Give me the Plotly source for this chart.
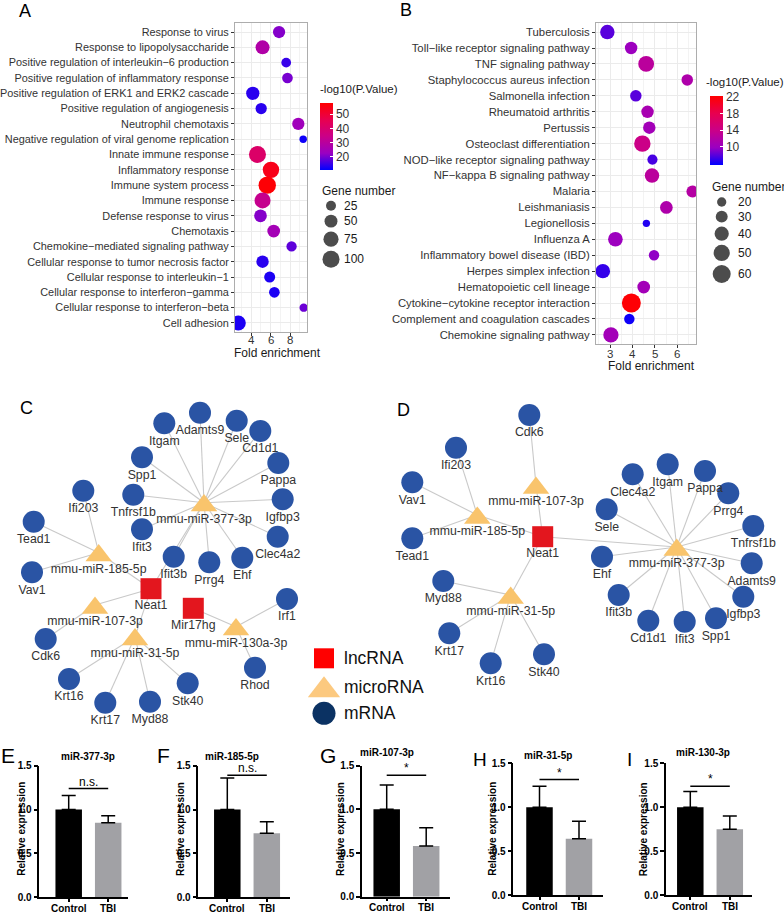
import numpy as np
import plotly.graph_objects as go

W, H = 784, 913
FONT = "Liberation Sans, Arial, sans-serif"
M = "\u2212"

# ---------------- Panel A: GO enrichment ----------------
go_terms = ["Response to virus", "Response to lipopolysaccharide",
            f"Positive regulation of interleukin{M}6 production",
            "Positive regulation of inflammatory response",
            "Positive regulation of ERK1 and ERK2 cascade",
            "Positive regulation of angiogenesis",
            "Neutrophil chemotaxis",
            "Negative regulation of viral genome replication",
            "Innate immune response", "Inflammatory response",
            "Immune system process", "Immune response",
            "Defense response to virus", "Chemotaxis",
            f"Chemokine{M}mediated signaling pathway",
            "Cellular response to tumor necrosis factor",
            f"Cellular response to interleukin{M}1",
            f"Cellular response to interferon{M}gamma",
            f"Cellular response to interferon{M}beta",
            "Cell adhesion"]
go_fold = [6.86, 5.17, 7.59, 7.72, 4.17, 5.03, 8.83, 9.33, 4.65, 6.03,
           5.65, 5.17, 4.96, 6.31, 8.14, 5.17, 5.90, 6.38, 9.38, 2.69]
go_genes = [44, 62, 23, 30, 54, 35, 44, 10, 100, 92,
            106, 86, 48, 48, 27, 45, 33, 30, 15, 73]
go_logp = [21, 28, 15, 20, 14, 14, 24, 12, 41, 54,
           57, 33, 21, 25, 18, 14, 13, 13, 19, 13]
go_size_legend = [25, 50, 75, 100]
go_color_ticks = [20, 30, 40, 50]
go_x_ticks = [4, 6, 8]

# ---------------- Panel B: KEGG enrichment ----------------
kegg_terms = ["Tuberculosis", f"Toll{M}like receptor signaling pathway",
              "TNF signaling pathway", "Staphylococcus aureus infection",
              "Salmonella infection", "Rheumatoid arthritis", "Pertussis",
              "Osteoclast differentiation",
              f"NOD{M}like receptor signaling pathway",
              f"NF{M}kappa B signaling pathway", "Malaria", "Leishmaniasis",
              "Legionellosis", "Influenza A",
              "Inflammatory bowel disease (IBD)", "Herpes simplex infection",
              "Hematopoietic cell lineage",
              f"Cytokine{M}cytokine receptor interaction",
              "Complement and coagulation cascades",
              "Chemokine signaling pathway"]
kegg_fold = [2.88, 3.94, 4.61, 6.44, 4.15, 4.67, 4.75, 4.44, 4.89, 4.87,
             6.67, 5.51, 4.62, 3.24, 4.96, 2.68, 4.50, 3.95, 3.86, 3.04]
kegg_genes = [41, 32, 48, 28, 28, 32, 32, 51, 23, 41,
              30, 33, 14, 42, 24, 41, 33, 66, 24, 45]
kegg_logp = [8, 10, 12.5, 11.5, 8, 11, 10.5, 14, 7.5, 12.5,
             12, 11.5, 6.5, 10, 9.5, 7, 10.5, 22, 6, 10.5]
kegg_size_legend = [20, 30, 40, 50, 60]
kegg_color_ticks = [10, 14, 18, 22]
kegg_x_ticks = [3, 4, 5, 6]

# ---------------- Panel C network (layout coordinates) ----------------
c_names = ["Adamts9", "Itgam", "Sele", "Cd1d1", "Spp1", "Pappa", "Tnfrsf1b",
           "mmu-miR-377-3p", "Igfbp3", "Ifi203", "Tead1", "Ifit3", "Clec4a2",
           "mmu-miR-185-5p", "Ifit3b", "Prrg4", "Ehf", "Vav1", "Neat1",
           "Mir17hg", "Irf1", "mmu-miR-107-3p", "mmu-miR-130a-3p",
           "mmu-miR-31-5p", "Cdk6", "Rhod", "Krt16", "Stk40", "Krt17", "Myd88"]
c_x = [200, 164.3, 236.7, 260.3, 142, 278.3, 133.3, 204, 282.7, 83.3, 33.7,
       142, 277.7, 98.7, 173.7, 209.3, 242.3, 32, 151, 193.3, 287, 95, 236,
       135, 45.7, 255, 69, 187.7, 105.3, 150]
c_y = [412.7, 423.3, 420.7, 431, 457.3, 463, 494.7, 502.7, 499.3, 490.7,
       521.7, 529.3, 536.7, 552.7, 556.7, 562.3, 557.7, 572.3, 588.7, 608.3,
       599, 605, 626.7, 636.7, 639, 667.7, 679, 683.3, 702.7, 701.7]
c_type = ["m", "m", "m", "m", "m", "m", "m", "mi", "m", "m", "m", "m", "m",
          "mi", "m", "m", "m", "m", "lnc", "lnc", "m", "mi", "mi", "mi", "m",
          "m", "m", "m", "m", "m"]
c_edges = [("mmu-miR-377-3p", t) for t in
           ["Adamts9", "Itgam", "Sele", "Cd1d1", "Spp1", "Pappa", "Tnfrsf1b",
            "Igfbp3", "Ifit3", "Clec4a2", "Ifit3b", "Prrg4", "Ehf", "Neat1"]] + \
          [("mmu-miR-185-5p", t) for t in ["Ifi203", "Tead1", "Vav1", "Neat1"]] + \
          [("mmu-miR-107-3p", t) for t in ["Neat1", "Cdk6"]] + \
          [("mmu-miR-31-5p", t) for t in ["Neat1", "Krt16", "Krt17", "Myd88", "Stk40"]] + \
          [("mmu-miR-130a-3p", t) for t in ["Mir17hg", "Irf1", "Rhod"]]

# ---------------- Panel D network ----------------
d_names = ["Cdk6", "Ifi203", "Itgam", "Pappa", "Clec4a2", "Vav1",
           "mmu-miR-107-3p", "Prrg4", "Sele", "mmu-miR-185-5p", "Tnfrsf1b",
           "Neat1", "Tead1", "mmu-miR-377-3p", "Ehf", "Adamts9", "Myd88",
           "mmu-miR-31-5p", "Ifit3b", "Igfbp3", "Spp1", "Cd1d1", "Ifit3",
           "Krt17", "Stk40", "Krt16"]
d_x = [529.3, 456, 667.7, 705, 632.7, 412.3, 536, 728.3, 606.7, 477.3, 753.3,
       542.7, 412.3, 676.7, 602, 751.7, 443.3, 510.7, 618.7, 743.3, 716,
       648.3, 684.7, 449.3, 544, 490.7]
d_y = [415, 447.7, 464.3, 471, 474.3, 482.3, 485, 493.3, 509.3, 515, 526,
       536.7, 538.3, 547, 556.7, 563.3, 581, 595, 595, 596.7, 618.3, 620.7,
       621.7, 633.3, 654.3, 663.3]
d_type = ["m", "m", "m", "m", "m", "m", "mi", "m", "m", "mi", "m", "lnc",
          "m", "mi", "m", "m", "m", "mi", "m", "m", "m", "m", "m", "m", "m", "m"]
d_edges = [("Neat1", t) for t in ["mmu-miR-107-3p", "mmu-miR-185-5p",
                                  "mmu-miR-31-5p", "mmu-miR-377-3p"]] + \
          [("mmu-miR-107-3p", "Cdk6")] + \
          [("mmu-miR-185-5p", t) for t in ["Ifi203", "Vav1", "Tead1"]] + \
          [("mmu-miR-31-5p", t) for t in ["Myd88", "Krt17", "Krt16", "Stk40"]] + \
          [("mmu-miR-377-3p", t) for t in
           ["Itgam", "Clec4a2", "Pappa", "Prrg4", "Sele", "Tnfrsf1b", "Ehf",
            "Adamts9", "Ifit3b", "Igfbp3", "Cd1d1", "Ifit3", "Spp1"]]

legend_types = ["lnc", "mi", "m"]
legend_labels = ["lncRNA", "microRNA", "mRNA"]

# ---------------- Panels E-I: qPCR bars ----------------
bar_letters = ["E", "F", "G", "H", "I"]
bar_titles = ["miR-377-3p", "miR-185-5p", "miR-107-3p", "miR-31-5p", "miR-130-3p"]
groups = ["Control", "TBI"]
ctrl_mean = [1.0, 1.0, 1.0, 1.0, 1.0]
ctrl_err = [0.16, 0.36, 0.28, 0.24, 0.18]
tbi_mean = [0.85, 0.73, 0.58, 0.64, 0.75]
tbi_err = [0.08, 0.13, 0.21, 0.20, 0.15]
sig_text = ["n.s.", "n.s.", "*", "*", "*"]
sig_y = [1.24, 1.39, 1.39, 1.315, 1.24]
bar_yticks = [0.0, 0.5, 1.0, 1.5]

# =====================================================================
fig = go.Figure()
annotations = []
shapes = []


def px(x):
    return x / W


def py(y):
    return 1 - y / H


def ann(x, y, text, size=12, xanchor="center", yanchor="middle", color="#1a1a1a",
        angle=0, xref="paper", **kw):
    d = dict(x=px(x) if xref == "paper" else x, y=py(y), xref=xref, yref="paper", text=text,
             showarrow=False, xanchor=xanchor, yanchor=yanchor, textangle=angle,
             font=dict(family=FONT, size=size, color=color))
    d.update(kw)
    annotations.append(d)


def sizeA(v):
    return 3.0 + 1.4 * np.sqrt(v)


def sizeB(v):
    return max(4.0, -2.55 + 2.65 * np.sqrt(v))


cscale = [[0, "#0000FF"], [0.25, "#9A00C2"], [0.5, "#CA0088"],
          [0.75, "#E8004F"], [1, "#FF0000"]]

# Panel A dots
fig.add_trace(go.Scatter(x=go_fold, y=go_terms, mode="markers", xaxis="x", yaxis="y",
                         marker=dict(size=[sizeA(v) for v in go_genes], color=go_logp,
                                     coloraxis="coloraxis", line=dict(width=0), opacity=1),
                         hoverinfo="skip"))
# Panel B dots
fig.add_trace(go.Scatter(x=kegg_fold, y=kegg_terms, mode="markers", xaxis="x2", yaxis="y2",
                         marker=dict(size=[sizeB(v) for v in kegg_genes], color=kegg_logp,
                                     coloraxis="coloraxis2", line=dict(width=0), opacity=1),
                         hoverinfo="skip"))

# x tick labels of A and B (placed on the data axes)
for v in go_x_ticks:
    ann(v, 340, str(v), size=11.5, color="#333333", xref="x", borderpad=0)
for v in kegg_x_ticks:
    ann(v, 353.8, str(v), size=11.5, color="#333333", xref="x2", borderpad=0)


# Size legends (overlay axes x3/y3 in pixel units)
def size_legend(values, fsize, x_c, x_t, y0):
    sizes = [fsize(v) for v in values]
    ys = [y0]
    for i in range(1, len(sizes)):
        ys.append(ys[-1] + (sizes[i - 1] + sizes[i]) / 2 + 4)
    fig.add_trace(go.Scatter(x=[x_c] * len(values), y=ys, mode="markers", xaxis="x3", yaxis="y3",
                             marker=dict(size=sizes, color="black", line=dict(width=0)),
                             hoverinfo="skip"))
    for v, yy in zip(values, ys):
        ann(x_t, yy, str(v), size=12, xanchor="left")


size_legend(go_size_legend, sizeA, 331, 342, 205.7)
size_legend(kegg_size_legend, sizeB, 721.7, 736, 202)
ann(320, 191, "Gene number", size=12, xanchor="left")
ann(710, 187, "Gene number", size=12, xanchor="left")
ann(318, 89, "-log10(P.Value)", size=11.5, xanchor="left")
ann(704, 82, "-log10(P.Value)", size=11.5, xanchor="left")
ann(277, 352.5, "Fold enrichment", size=12, borderpad=0)
ann(651.7, 366.3, "Fold enrichment", size=12, borderpad=0)

# ---------------- networks ----------------
NODE_STYLE = {
    "m": dict(symbol="circle", size=22, color="#2A54A4"),
    "lnc": dict(symbol="square", size=21, color="#E3161E"),
    "mi": dict(symbol="triangle-up", size=23, color="#F9C46C"),
}
LABEL_OFF = {"m": 18.3, "lnc": 17.7, "mi": 17.0}


def draw_network(names, xs, ys, types, edges):
    pos = {n: (x, y) for n, x, y in zip(names, xs, ys)}
    ex, ey = [], []
    for a, b in edges:
        ex += [pos[a][0], pos[b][0], None]
        ey += [pos[a][1], pos[b][1], None]
    fig.add_trace(go.Scatter(x=ex, y=ey, mode="lines", xaxis="x3", yaxis="y3",
                             line=dict(color="#C9C9C9", width=1.1), hoverinfo="skip"))
    for t in ["m", "lnc", "mi"]:
        st = NODE_STYLE[t]
        idx = [i for i, tt in enumerate(types) if tt == t]
        shift = st["size"] / 8 if t == "mi" else 0
        fig.add_trace(go.Scatter(x=[xs[i] for i in idx], y=[ys[i] + shift for i in idx],
                                 mode="markers", xaxis="x3", yaxis="y3",
                                 marker=dict(symbol=st["symbol"], size=st["size"],
                                             color=st["color"], line=dict(width=0)),
                                 hoverinfo="skip"))
    fig.add_trace(go.Scatter(x=xs, y=[y + LABEL_OFF[t] for y, t in zip(ys, types)],
                             text=names, mode="text", xaxis="x3", yaxis="y3",
                             textfont=dict(family=FONT, size=12.3, color="#333333"),
                             hoverinfo="skip"))


draw_network(c_names, c_x, c_y, c_type, c_edges)
draw_network(d_names, d_x, d_y, d_type, d_edges)

# network legend
LEG_STYLE = {"lnc": dict(symbol="square", size=20, color="#FF0000"),
             "mi": dict(symbol="triangle-up", size=28, color="#FCC97F"),
             "m": dict(symbol="circle", size=23, color="#0B3263")}
leg_y = [658.3, 686.7, 713.3]
for t, lab, yy in zip(legend_types, legend_labels, leg_y):
    st = LEG_STYLE[t]
    shift = st["size"] / 8 if t == "mi" else 0
    fig.add_trace(go.Scatter(x=[324], y=[yy + shift], mode="markers", xaxis="x3", yaxis="y3",
                             marker=dict(symbol=st["symbol"], size=st["size"], color=st["color"],
                                         line=dict(width=0)), hoverinfo="skip"))
    ann(342, yy, lab, size=17.5, xanchor="left", color="#111111")

# ---------------- bar charts ----------------
# (axis left px, axis right px, control centre px, y of 0 px, y of 1.5 px)
bar_geom = [(39.3, 128, 68.7, 897.3, 765.7),
            (198.3, 290, 227.3, 897.3, 765.7),
            (362, 450, 386.7, 896.7, 765.7),
            (513.3, 603, 539.5, 895, 763.3),
            (666, 752, 690.3, 895, 763.3)]
title_pos = [(88, 756.7), (231.7, 756.7), (387, 752.5), (548.3, 755), (702.7, 752.3)]
ylab_x = [20.7, 180, 340, 491.7, 643.3]
letter_pos = [(8, 755, 21), (163, 755, 21), (328, 755, 21), (480, 759, 19), (629, 759, 19)]
SP = 39.5
layout_axes = {}
for k in range(5):
    left, right, cc, y0, y15 = bar_geom[k]
    n = k + 4
    xa, ya = f"x{n}", f"y{n}"
    fig.add_trace(go.Bar(x=[0, 1], y=[ctrl_mean[k], tbi_mean[k]], xaxis=xa, yaxis=ya,
                         width=26.5 / SP,
                         marker=dict(color=["#000000", "#A1A1A5"], line=dict(width=0)),
                         error_y=dict(type="data", symmetric=False,
                                      array=[ctrl_err[k], tbi_err[k]], arrayminus=[0, 0],
                                      color="black", thickness=1.5, width=7),
                         hoverinfo="skip"))
    layout_axes[f"xaxis{n}"] = dict(
        domain=[px(left), px(right)], range=[(left - cc) / SP, (right - cc) / SP],
        anchor=ya, tickvals=[0, 1], showticklabels=False,
        showline=True, linecolor="black", linewidth=1.5, ticks="outside", ticklen=3,
        tickwidth=1.5, tickcolor="black", showgrid=False, zeroline=False, automargin=False,
        fixedrange=True)
    layout_axes[f"yaxis{n}"] = dict(
        domain=[py(y0), py(y15)], range=[0, 1.5], anchor=xa,
        tickvals=bar_yticks, ticktext=[f"<b>{v:.1f}</b>" for v in bar_yticks],
        showline=True, linecolor="black", linewidth=1.5, ticks="outside", ticklen=4,
        tickwidth=1.5, tickcolor="black", showgrid=False, zeroline=False, automargin=False,
        tickfont=dict(family=FONT, size=10, color="black"), fixedrange=True)
    for gi, g in enumerate(groups):
        ann(gi, y0 + 11, f"<b>{g}</b>", size=10, color="black", xref=xa)
    shapes.append(dict(type="line", xref=xa, yref=ya, x0=0, x1=1, y0=sig_y[k], y1=sig_y[k],
                       line=dict(color="black", width=1.5)))
    annotations.append(dict(x=0.5, y=sig_y[k], xref=xa, yref=ya, text=sig_text[k],
                            showarrow=False, yanchor="bottom", yshift=-2,
                            font=dict(family=FONT, size=12, color="black")))
    ann(title_pos[k][0], title_pos[k][1], f"<b>{bar_titles[k]}</b>", size=10, color="black")
    ann(ylab_x[k], 829, "<b>Relative expression</b>", size=10, color="black", angle=-90)
    lx, ly, ls = letter_pos[k]
    ann(lx, ly, bar_letters[k], size=ls, color="black")

# panel letters for A-D
ann(25, 11, "A", size=18, color="black")
ann(406, 10, "B", size=18, color="black")
ann(27, 408, "C", size=18, color="black")
ann(403, 410, "D", size=18, color="black")

grid_major = "#EBEBEB"
grid_minor = "#F3F3F3"
border = "#ADADAD"
tickfontA = dict(family=FONT, size=10.9, color="#333333")
tickfontB = dict(family=FONT, size=11.3, color="#333333")

layout = dict(
    width=W, height=H, margin=dict(l=0, r=0, t=0, b=0, pad=0, autoexpand=False),
    paper_bgcolor="white", plot_bgcolor="rgba(0,0,0,0)", showlegend=False,
    font=dict(family=FONT),
    xaxis=dict(domain=[px(235), px(307)], range=[2.35, 9.72], anchor="y",
               tick0=0, dtick=2, showgrid=True, gridcolor=grid_major, gridwidth=1,
               minor=dict(dtick=1, tick0=0, showgrid=True, gridcolor=grid_minor, gridwidth=0.6),
               showline=True, mirror=True, linecolor=border, linewidth=1, showticklabels=False,
               ticks="outside", ticklen=3, tickcolor="#333333", zeroline=False, automargin=False,
               fixedrange=True),
    yaxis=dict(domain=[py(332), py(23)], type="category", categoryorder="array",
               categoryarray=go_terms, range=[len(go_terms) - 1 + 0.59, -0.59], anchor="x",
               showgrid=True, gridcolor=grid_major, gridwidth=1,
               showline=True, mirror=True, linecolor=border, linewidth=1,
               ticks="outside", ticklen=3, tickcolor="#333333", zeroline=False, automargin=False,
               tickfont=tickfontA, fixedrange=True),
    xaxis2=dict(domain=[px(596), px(696)], range=[2.375, 6.83], anchor="y2",
                tick0=0, dtick=1, showgrid=True, gridcolor=grid_major, gridwidth=1,
                minor=dict(dtick=0.5, tick0=0, showgrid=True, gridcolor=grid_minor, gridwidth=0.6),
                showline=True, mirror=True, linecolor=border, linewidth=1, showticklabels=False,
                ticks="outside", ticklen=3, tickcolor="#333333", zeroline=False, automargin=False,
                fixedrange=True),
    yaxis2=dict(domain=[py(344), py(23)], type="category", categoryorder="array",
                categoryarray=kegg_terms, range=[len(kegg_terms) - 1 + 0.57, -0.57], anchor="x2",
                showgrid=True, gridcolor=grid_major, gridwidth=1,
                showline=True, mirror=True, linecolor=border, linewidth=1,
                ticks="outside", ticklen=3, tickcolor="#333333", zeroline=False, automargin=False,
                tickfont=tickfontB, fixedrange=True),
    xaxis3=dict(domain=[0, 1], range=[0, W], anchor="y3", visible=False, fixedrange=True,
                automargin=False),
    yaxis3=dict(domain=[0, 1], range=[H, 0], anchor="x3", visible=False, fixedrange=True,
                automargin=False),
    coloraxis=dict(cmin=10.9, cmax=57.7, colorscale=cscale,
                   colorbar=dict(x=px(320), xanchor="left", y=py(136.5), yanchor="middle",
                                 len=67, lenmode="pixels", thickness=13, thicknessmode="pixels",
                                 xpad=0, ypad=0, outlinewidth=0, tickvals=go_color_ticks,
                                 ticks="inside", ticklen=3, tickcolor="white",
                                 tickfont=dict(family=FONT, size=12, color="#333333"))),
    coloraxis2=dict(cmin=5.6, cmax=22.2, colorscale=cscale,
                    colorbar=dict(x=px(710), xanchor="left", y=py(130.5), yanchor="middle",
                                  len=69, lenmode="pixels", thickness=13, thicknessmode="pixels",
                                  xpad=0, ypad=0, outlinewidth=0, tickvals=kegg_color_ticks,
                                  ticks="inside", ticklen=3, tickcolor="white",
                                  tickfont=dict(family=FONT, size=12, color="#333333"))),
    annotations=annotations, shapes=shapes,
)
layout.update(layout_axes)
fig.update_layout(**layout)
fig.write_html("out.html", config={"displayModeBar": False},
               post_script="document.body.style.margin='0';document.body.style.padding='0';")
